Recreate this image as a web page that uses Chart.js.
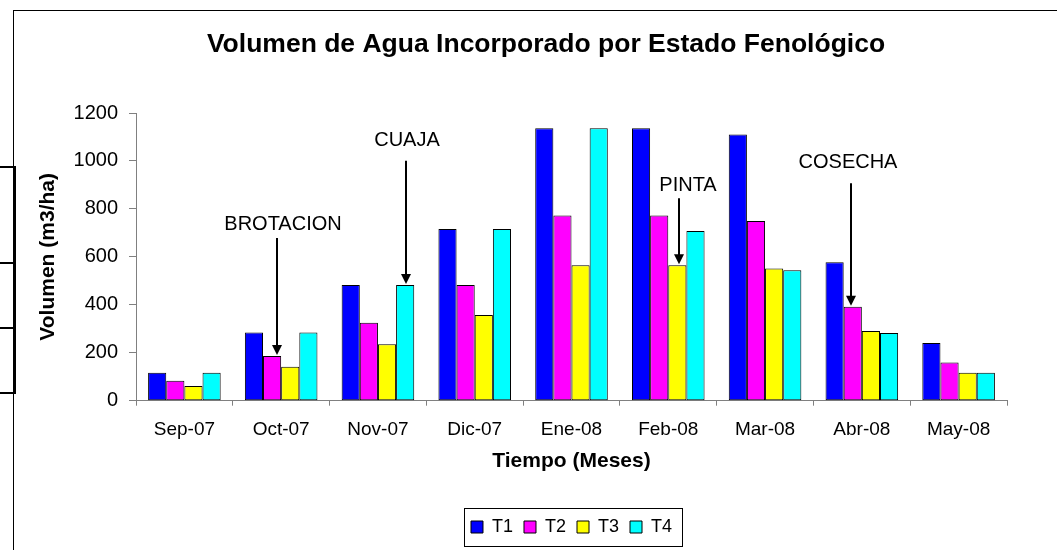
<!DOCTYPE html>
<html>
<head>
<meta charset="utf-8">
<title>Volumen de Agua Incorporado por Estado Fenológico</title>
<script src="https://cdn.jsdelivr.net/npm/chart.js"></script>
<style>
    body { margin: 0; background: #ffffff; overflow: hidden; }
    #frame { position: absolute; left: 13px; top: 10px; width: 1100px; height: 600px; border-left: 1px solid #000; border-top: 1px solid #000; }
    #volumenChart { position: absolute; left: 0; top: 0; }
    .side { position: absolute; background: #000; }
</style>
</head>
<body>

<!-- bits of the neighbouring table on the left -->
<div class="side" style="left:0; top:166px; width:16px; height:2px;"></div>
<div class="side" style="left:0; top:262px; width:16px; height:2px;"></div>
<div class="side" style="left:0; top:327px; width:16px; height:2px;"></div>
<div class="side" style="left:0; top:392px; width:16px; height:2px;"></div>
<div class="side" style="left:14px; top:166px; width:2px; height:228px;"></div>

<div id="frame">
    <canvas id="volumenChart" width="1070" height="560"></canvas>
</div>

<script>
// Data
var meses = ['Sep-07', 'Oct-07', 'Nov-07', 'Dic-07', 'Ene-08', 'Feb-08', 'Mar-08', 'Abr-08', 'May-08'];
var t1 = [117, 284, 483, 716, 1136, 1136, 1110, 577, 241];
var t2 = [83, 186, 325, 483, 772, 772, 750, 392, 159];
var t3 = [61, 142, 235, 357, 565, 565, 551, 291, 117];
var t4 = [117, 284, 483, 716, 1136, 708, 544, 282, 117];
var yTicks = [0, 200, 400, 600, 800, 1000, 1200];

// Phenological stages (arrow points at the bar of that month / series)
var etapas = ['BROTACION', 'CUAJA', 'PINTA', 'COSECHA'];
var etapaMes = [1, 2, 5, 7];
var etapaSerie = [1, 3, 2, 1];
var etapaFlecha = [679, 1001, 844, 907];   // top of the arrow, in m3/ha
var etapaTexto = [735, 1085, 898, 994];    // label level, in m3/ha

Chart.defaults.font.family = "'Liberation Sans', Arial, sans-serif";
Chart.defaults.color = '#000000';

// Arrows and stage labels
var etapasPlugin = {
    id: 'etapas',
    afterDatasetsDraw: function (chart) {
        var ctx = chart.ctx;
        var y = chart.scales.y;
        var arrowDx = [5, 1, 2, -2];
        var textDx = [6, 1, 9, -3];
        ctx.save();
        ctx.fillStyle = '#000';
        ctx.strokeStyle = '#000';
        ctx.lineWidth = 2;
        ctx.font = "20px 'Liberation Sans', Arial, sans-serif";
        ctx.textAlign = 'center';
        ctx.textBaseline = 'middle';
        for (var i = 0; i < etapas.length; i++) {
            var bar = chart.getDatasetMeta(etapaSerie[i]).data[etapaMes[i]];
            var x = Math.round(bar.x) + arrowDx[i];
            var yTop = y.getPixelForValue(etapaFlecha[i]);
            var yTip = bar.y - 1;
            ctx.beginPath();
            ctx.moveTo(x, yTop);
            ctx.lineTo(x, yTip - 8);
            ctx.stroke();
            ctx.beginPath();
            ctx.moveTo(x - 5, yTip - 10);
            ctx.lineTo(x + 5, yTip - 10);
            ctx.lineTo(x, yTip);
            ctx.closePath();
            ctx.fill();
            ctx.fillText(etapas[i], x + textDx[i], y.getPixelForValue(etapaTexto[i]));
        }
        ctx.restore();
    }
};

// Border round the legend
var legendBoxPlugin = {
    id: 'legendBox',
    afterDraw: function (chart) {
        var boxes = chart.legend.legendHitBoxes;
        if (!boxes || !boxes.length) return;
        var first = boxes[0], last = boxes[boxes.length - 1];
        var left = Math.round(first.left - 7);
        var right = Math.round(last.left + last.width + 10);
        var mid = first.top + first.height / 2;
        var ctx = chart.ctx;
        ctx.save();
        ctx.strokeStyle = '#000';
        ctx.lineWidth = 1;
        ctx.strokeRect(left + 0.5, Math.round(mid - 19) + 0.5, right - left, 38);
        ctx.restore();
    }
};

function serie(label, values, color) {
    return {
        label: label,
        data: values,
        backgroundColor: color,
        borderColor: '#000000',
        borderWidth: 1,
        borderSkipped: false,
        barPercentage: 1.0,
        categoryPercentage: 0.75
    };
}

var ctx = document.getElementById('volumenChart').getContext('2d');
var volumenChart = new Chart(ctx, {
    type: 'bar',
    data: {
        labels: meses,
        datasets: [
            serie('T1', t1, '#0000FF'),
            serie('T2', t2, '#FF00FF'),
            serie('T3', t3, '#FFFF00'),
            serie('T4', t4, '#00FFFF')
        ]
    },
    options: {
        responsive: false,
        animation: false,
        layout: {
            padding: { left: 20, right: 26, top: 0, bottom: 25 }
        },
        plugins: {
            title: {
                display: true,
                text: 'Volumen de Agua Incorporado por Estado Fenológico',
                color: '#000',
                font: { size: 26.5, weight: 'bold' },
                padding: { top: 18, bottom: 52.2 }
            },
            legend: {
                position: 'bottom',
                fullSize: false,
                labels: {
                    color: '#000',
                    font: { size: 18 },
                    boxWidth: 12,
                    boxHeight: 12,
                    padding: 11
                }
            },
            tooltip: { enabled: false }
        },
        scales: {
            x: {
                grid: {
                    display: true,
                    drawOnChartArea: false,
                    drawTicks: true,
                    tickLength: 5,
                    color: '#808080'
                },
                border: { color: '#808080', width: 1 },
                ticks: {
                    color: '#000',
                    font: { size: 19 },
                    padding: 13,
                    maxRotation: 0,
                    autoSkip: false
                },
                title: {
                    display: true,
                    text: 'Tiempo (Meses)',
                    color: '#000',
                    font: { size: 21, weight: 'bold' },
                    padding: { top: 0, bottom: 33.4 }
                },
                afterFit: function (scale) {
                    scale.height = 106.3;
                }
            },
            y: {
                min: 0,
                max: 1200,
                grid: {
                    display: true,
                    drawOnChartArea: false,
                    drawTicks: true,
                    tickLength: 7,
                    color: '#808080'
                },
                border: { color: '#808080', width: 1 },
                afterBuildTicks: function (scale) {
                    scale.ticks = yTicks.map(function (v) { return { value: v }; });
                },
                ticks: {
                    color: '#000',
                    font: { size: 20 },
                    padding: 11,
                    callback: function (value) {
                        return String(value);
                    }
                },
                title: {
                    display: true,
                    text: 'Volumen (m3/ha)',
                    color: '#000',
                    font: { size: 21, weight: 'bold' },
                    padding: { top: 2, bottom: 0 }
                },
                afterFit: function (scale) {
                    scale.width = 102;
                }
            },
            // empty right-hand margin so the title centres like the original
            margen: {
                type: 'linear',
                position: 'right',
                min: 0,
                max: 1,
                grid: { display: false },
                border: { display: false },
                ticks: { display: false },
                afterFit: function (scale) {
                    scale.width = 51;
                }
            }
        }
    },
    plugins: [etapasPlugin, legendBoxPlugin]
});
</script>
</body>
</html>
